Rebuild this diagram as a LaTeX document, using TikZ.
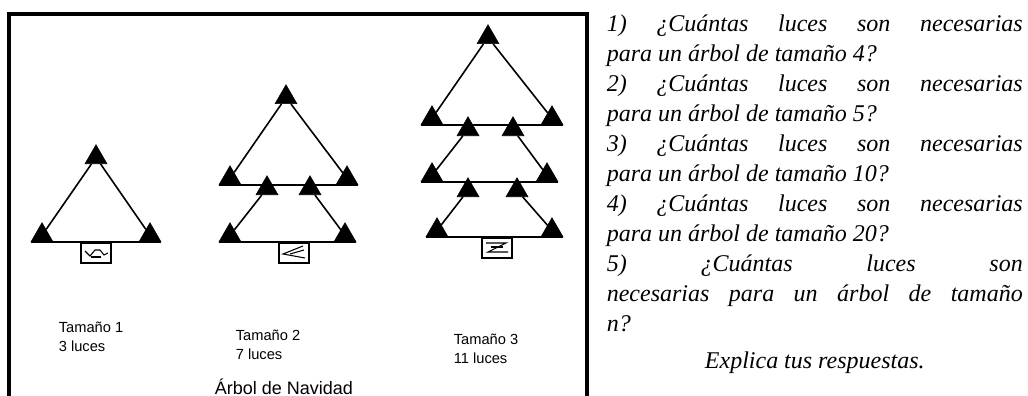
\documentclass[tikz,border=0pt]{standalone}
\usepackage{fontspec}
\setmainfont{Liberation Serif}
\setsansfont{Liberation Sans}
\usetikzlibrary{shapes.geometric}

\begin{document}
\begin{tikzpicture}[x=0.75pt, y=-0.75pt, line width=1.2pt,
    light/.style={draw=black, fill=black, line width=0.4pt, shape=regular polygon, regular polygon sides=3, minimum size=19pt, inner sep=0pt, anchor=south},
    trunk/.style={draw=black, line width=1.5pt, shape=rectangle, minimum width=23pt, minimum height=15pt, inner sep=0pt, anchor=north},
    sizelabel/.style={font=\sffamily\fontsize{11}{14.5}\selectfont, align=left, anchor=north west, inner sep=0pt}]
    \useasboundingbox (0,0) rectangle (1028,396);

    \draw[line width=3pt] (9,396) -- (9,14) -- (587,14) -- (587,396);

    \node[light] (a1) at (96,164) {};
    \node[light] (a2) at (42,242) {};
    \node[light] (a3) at (150,242) {};
    \node[trunk] (ta) at (96,242) {};
    \draw (a1) -- (a2);
    \draw (a1) -- (a3);
    \draw (a2.corner 2) -- (a3.corner 3);
    \begin{scope}[shift={(ta.center)}, line width=0.8pt]
        \draw (-11,-2) -- (-6,3) -- (-1,-3) -- (4,-3) -- (8,2) -- (12,0);
        \draw (-5,4) -- (5,4);
    \end{scope}

    \node[light] (b1) at (286,104) {};
    \node[light] (b2) at (230,185) {};
    \node[light] (b3) at (347,185) {};
    \node[light] (b4) at (267,195) {};
    \node[light] (b5) at (310,195) {};
    \node[light] (b6) at (230,242) {};
    \node[light] (b7) at (345,242) {};
    \node[trunk] (tb) at (294,242) {};
    \draw (b1) -- (b2);
    \draw (b1) -- (b3);
    \draw (b2.corner 2) -- (b3.corner 3);
    \draw (b4) -- (b6);
    \draw (b5) -- (b7);
    \draw (b6.corner 2) -- (b7.corner 3);
    \begin{scope}[shift={(tb.center)}, line width=0.8pt]
        \draw (9,-7) -- (-11,1) -- (11,5);
        \draw (-4,1) -- (10,-3);
    \end{scope}

    \node[light] (c1) at (488,44) {};
    \node[light] (c2) at (432,125) {};
    \node[light] (c3) at (552,125) {};
    \node[light] (c4) at (468,136) {};
    \node[light] (c5) at (513,136) {};
    \node[light] (c6) at (432,182) {};
    \node[light] (c7) at (547,182) {};
    \node[light] (c8) at (468,197) {};
    \node[light] (c9) at (517,197) {};
    \node[light] (c10) at (437,237) {};
    \node[light] (c11) at (552,237) {};
    \node[trunk] (tc) at (497,237) {};
    \draw (c1) -- (c2);
    \draw (c1) -- (c3);
    \draw (c2.corner 2) -- (c3.corner 3);
    \draw (c4) -- (c6);
    \draw (c5) -- (c7);
    \draw (c6.corner 2) -- (c7.corner 3);
    \draw (c8) -- (c10);
    \draw (c9) -- (c11);
    \draw (c10.corner 2) -- (c11.corner 3);
    \begin{scope}[shift={(tc.center)}, line width=0.8pt]
        \draw (-11,-5) -- (9,-5) -- (-9,4) -- (11,4);
        \draw (-6,-1) -- (6,-1);
    \end{scope}

    \node[sizelabel] (s1) at (58,321) {Tamaño 1\\3 luces};
    \node[sizelabel] (s2) at (235,329) {Tamaño 2\\7 luces};
    \node[sizelabel] (s3) at (453,333) {Tamaño 3\\11 luces};
    \node[font=\sffamily\fontsize{13.5}{16}\selectfont, anchor=base, inner sep=0pt] (title) at (284,394) {Árbol de Navidad};

    \node[anchor=north west, inner sep=0pt, text width=312pt, align=justify, font=\itshape\fontsize{18}{22.5}\selectfont] (q) at (606,14) {\setlength{\parindent}{0pt}%
        1) ¿Cuántas luces son necesarias\linebreak para un árbol de tamaño 4?\par
        2) ¿Cuántas luces son necesarias\linebreak para un árbol de tamaño 5?\par
        3) ¿Cuántas luces son necesarias\linebreak para un árbol de tamaño 10?\par
        4) ¿Cuántas luces son necesarias\linebreak para un árbol de tamaño 20?\par
        5) ¿Cuántas luces son\linebreak necesarias para un árbol de tamaño\linebreak n?\par
        \vspace{5pt}{\centering Explica tus respuestas.\par}};
\end{tikzpicture}
\end{document}
